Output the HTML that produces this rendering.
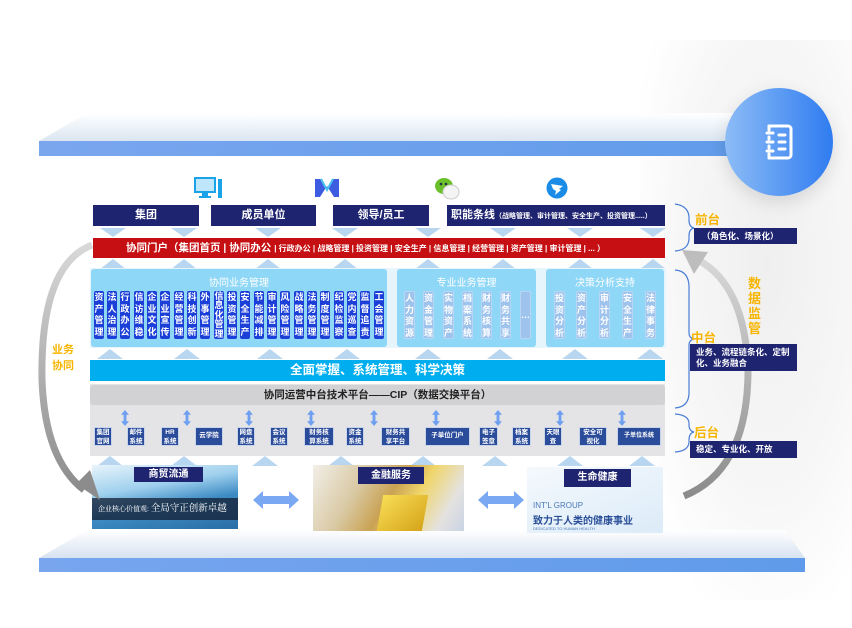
<!DOCTYPE html>
<html><head><meta charset="utf-8"><style>
*{margin:0;padding:0;box-sizing:border-box}
body{width:852px;height:628px;position:relative;overflow:hidden;background:#fff;font-family:"Liberation Sans","Noto Sans CJK SC",sans-serif}
.a{position:absolute}
.nv{background:#1f2470;color:#fff;font-weight:bold;text-align:center}
.da{position:absolute;width:26px;height:9px;background:#b9d6f0;clip-path:polygon(0 0,100% 0,50% 100%)}
.ua{position:absolute;width:26px;height:10px;background:#b9d6f0;clip-path:polygon(50% 0,100% 100%,0 100%)}
.col{position:absolute;top:291px;height:48px;width:10px;border-radius:2px;background:#1c3fd8;color:#fff;font-size:9px;font-weight:bold;line-height:11.5px;text-align:center;padding-top:1px}
.col2{background:#9ec3ec;color:#fff;width:11px;border:1px solid #b8d6f4}
.sb{position:absolute;top:427px;height:19px;background:#2b4c9a;color:#fff;font-size:6.5px;font-weight:bold;line-height:8.5px;text-align:center;padding-top:1px;white-space:nowrap;overflow:hidden;border:1px solid #c8d4ea}
.sb.one{line-height:16px;padding-top:0}
.dd{position:absolute;top:410px;width:8px;height:16px;background:#6e9ff0;clip-path:polygon(50% 0,100% 30%,68% 30%,68% 70%,100% 70%,50% 100%,0 70%,32% 70%,32% 30%,0 30%)}
.or{color:#f7b500;font-weight:bold}
</style></head><body>
<div class="a" style="left:640px;top:40px;width:212px;height:560px;background:radial-gradient(ellipse at 60% 40%,#efefef 0%,#f7f7f7 50%,#fff 80%)"></div>
<div class="a" style="left:39px;top:113px;width:766px;height:28px;background:linear-gradient(#fff,#dbe6f2);clip-path:polygon(48px 0,100% 0,100% 100%,0 100%)"></div>
<div class="a" style="left:39px;top:141px;width:766px;height:15px;background:linear-gradient(90deg,#7aa6ee,#5f9bea)"></div>
<div class="a" style="left:39px;top:530px;width:766px;height:28px;background:linear-gradient(#fff,#d7e3f1);clip-path:polygon(48px 0,calc(100% - 20px) 0,100% 100%,0 100%)"></div>
<div class="a" style="left:39px;top:558px;width:766px;height:14px;background:linear-gradient(90deg,#78a5ee,#5f9bea)"></div>
<div class="a" style="left:725px;top:88px;width:108px;height:108px;border-radius:50%;background:linear-gradient(90deg,#8cbcf6,#2f7cf0);box-shadow:0 6px 18px rgba(0,0,0,.12)"></div>
<svg class="a" style="left:755px;top:118px" width="48" height="48" viewBox="0 0 48 48"><g fill="none" stroke="#fff" stroke-width="3" stroke-linecap="round"><path d="M14 8 H33 a3 3 0 0 1 3 3 V37 a3 3 0 0 1-3 3 H14"/><path d="M12 15 H18 M12 24 H18 M12 33 H18 M24 17 H30 M24 24 H30 M24 31 H30"/><path d="M14 8 V12 M14 36 V40 M14 19 V21 M14 28 V30"/></g></svg>
<svg class="a" style="left:194px;top:177px" width="30" height="22"><rect x="1" y="1" width="20" height="14" fill="#bfe6fa" stroke="#1aa3e8" stroke-width="2"/><rect x="8" y="16" width="6" height="3" fill="#1aa3e8"/><rect x="5" y="19" width="12" height="2" fill="#1aa3e8"/><rect x="24" y="2" width="4" height="19" fill="#1aa3e8"/></svg>
<svg class="a" style="left:314px;top:178px" width="26" height="20"><path d="M1 1 L7 1 L13 12 L19 1 L25 1 L25 19 L20 19 L13 8 L6 19 L1 19Z" fill="#3d5ce0"/><path d="M7 1 L13 12 L19 1" fill="none" stroke="#48c0f0" stroke-width="2"/></svg>
<svg class="a" style="left:434px;top:176px" width="26" height="24"><ellipse cx="10" cy="10" rx="9" ry="8" fill="#6abf2a"/><ellipse cx="17" cy="16" rx="8" ry="7" fill="#f4f4f4" stroke="#ccc"/><circle cx="7" cy="8" r="1.3" fill="#234"/><circle cx="12" cy="8" r="1.3" fill="#234"/></svg>
<svg class="a" style="left:546px;top:177px" width="22" height="22"><circle cx="11" cy="11" r="10.5" fill="#1a8ce8"/><path d="M5 7 L17 9 L13 12 L15 13 L9 18 L10 14 L7 12Z" fill="#fff"/></svg>
<div class="a nv" style="left:93px;top:205px;width:106px;height:21px;font-size:11px;line-height:21px">集团</div>
<div class="a nv" style="left:211px;top:205px;width:105px;height:21px;font-size:11px;line-height:21px">成员单位</div>
<div class="a nv" style="left:333px;top:205px;width:96px;height:21px;font-size:11px;line-height:21px">领导/员工</div>
<div class="a nv" style="left:447px;top:205px;width:218px;height:21px;font-size:11px;line-height:21px;text-align:left;padding-left:4px;white-space:nowrap">职能条线<span style="font-size:7px">（战略管理、审计管理、安全生产、投资管理.....）</span></div>
<div class="da" style="left:100px;top:228px"></div><div class="da" style="left:171px;top:228px"></div><div class="da" style="left:255px;top:228px"></div><div class="da" style="left:332px;top:228px"></div><div class="da" style="left:415px;top:228px"></div><div class="da" style="left:490px;top:228px"></div><div class="da" style="left:567px;top:228px"></div><div class="da" style="left:640px;top:228px"></div>
<div class="a" style="left:93px;top:238px;width:572px;height:20px;background:#c50f12;color:#fff;font-weight:bold;font-size:10.5px;line-height:20px;padding-left:33px;white-space:nowrap">协同门户（集团首页 | 协同办公 <span style="font-size:8px">| 行政办公 | 战略管理 | 投资管理 | 安全生产 | 信息管理 | 经营管理 | 资产管理 | 审计管理 | ... ）</span></div>
<div class="ua" style="left:100px;top:259px"></div><div class="ua" style="left:171px;top:259px"></div><div class="ua" style="left:255px;top:259px"></div><div class="ua" style="left:332px;top:259px"></div><div class="ua" style="left:415px;top:259px"></div><div class="ua" style="left:490px;top:259px"></div><div class="ua" style="left:567px;top:259px"></div><div class="ua" style="left:640px;top:259px"></div>
<div class="a" style="left:90px;top:268px;width:576px;height:80px;background:#e6f4fb"></div>
<div class="a" style="left:91px;top:269px;width:296px;height:78px;background:#8fd7f6;border-radius:3px;color:#fff;font-size:10px;text-align:center;padding-top:5px">协同业务管理</div>
<div class="a" style="left:397px;top:269px;width:139px;height:78px;background:#8fd7f6;border-radius:3px;color:#fff;font-size:10px;text-align:center;padding-top:5px">专业业务管理</div>
<div class="a" style="left:546px;top:269px;width:118px;height:78px;background:#8fd7f6;border-radius:3px;color:#fff;font-size:10px;text-align:center;padding-top:5px">决策分析支持</div>
<div class="col" style="left:94px">资<br>产<br>管<br>理</div>
<div class="col" style="left:107px">法<br>人<br>治<br>理</div>
<div class="col" style="left:120px">行<br>政<br>办<br>公</div>
<div class="col" style="left:134px">信<br>访<br>维<br>稳</div>
<div class="col" style="left:147px">企<br>业<br>文<br>化</div>
<div class="col" style="left:160px">企<br>业<br>宣<br>传</div>
<div class="col" style="left:174px">经<br>营<br>管<br>理</div>
<div class="col" style="left:187px">科<br>技<br>创<br>新</div>
<div class="col" style="left:200px">外<br>事<br>管<br>理</div>
<div class="col" style="left:214px;line-height:9.4px">信<br>息<br>化<br>管<br>理</div>
<div class="col" style="left:227px">投<br>资<br>管<br>理</div>
<div class="col" style="left:240px">安<br>全<br>生<br>产</div>
<div class="col" style="left:254px">节<br>能<br>减<br>排</div>
<div class="col" style="left:267px">审<br>计<br>管<br>理</div>
<div class="col" style="left:280px">风<br>险<br>管<br>理</div>
<div class="col" style="left:294px">战<br>略<br>管<br>理</div>
<div class="col" style="left:307px">法<br>务<br>管<br>理</div>
<div class="col" style="left:320px">制<br>度<br>管<br>理</div>
<div class="col" style="left:334px">纪<br>检<br>监<br>察</div>
<div class="col" style="left:347px">党<br>内<br>巡<br>查</div>
<div class="col" style="left:360px">监<br>督<br>追<br>责</div>
<div class="col" style="left:374px">工<br>会<br>管<br>理</div>
<div class="col col2" style="left:404px">人<br>力<br>资<br>源</div>
<div class="col col2" style="left:423px">资<br>金<br>管<br>理</div>
<div class="col col2" style="left:443px">实<br>物<br>资<br>产</div>
<div class="col col2" style="left:462px">档<br>案<br>系<br>统</div>
<div class="col col2" style="left:481px">财<br>务<br>核<br>算</div>
<div class="col col2" style="left:500px">财<br>务<br>共<br>享</div>
<div class="col col2" style="left:520px;padding-top:18px">…</div>
<div class="col col2" style="left:554px">投<br>资<br>分<br>析</div>
<div class="col col2" style="left:576px">资<br>产<br>分<br>析</div>
<div class="col col2" style="left:599px">审<br>计<br>分<br>析</div>
<div class="col col2" style="left:622px">安<br>全<br>生<br>产</div>
<div class="col col2" style="left:645px">法<br>律<br>事<br>务</div>
<div class="ua" style="left:97px;top:349px"></div><div class="ua" style="left:174px;top:349px"></div><div class="ua" style="left:257px;top:349px"></div><div class="ua" style="left:334px;top:349px"></div><div class="ua" style="left:415px;top:349px"></div><div class="ua" style="left:487px;top:349px"></div><div class="ua" style="left:562px;top:349px"></div><div class="ua" style="left:637px;top:349px"></div>
<div class="a" style="left:90px;top:360px;width:575px;height:21px;background:#00aeef;color:#fff;font-weight:bold;font-size:12.5px;line-height:21px;text-align:center">全面掌握、系统管理、科学决策</div>
<div class="a" style="left:90px;top:384px;width:575px;height:72px;background:#e4e4e6"></div>
<div class="a" style="left:90px;top:385px;width:575px;height:20px;background:#d2d2d4;border-radius:3px;color:#222;font-weight:bold;font-size:10.5px;line-height:20px;text-align:center">协同运营中台技术平台——CIP（数据交换平台）</div>
<div class="dd" style="left:121px"></div><div class="dd" style="left:183px"></div><div class="dd" style="left:245px"></div><div class="dd" style="left:307px"></div><div class="dd" style="left:370px"></div><div class="dd" style="left:432px"></div><div class="dd" style="left:494px"></div><div class="dd" style="left:556px"></div><div class="dd" style="left:618px"></div>
<div class="sb" style="left:94px;width:18px">集团<br>官网</div>
<div class="sb" style="left:127px;width:18px">邮件<br>系统</div>
<div class="sb" style="left:161px;width:18px">HR<br>系统</div>
<div class="sb one" style="left:195px;width:28px">云学院</div>
<div class="sb" style="left:237px;width:18px">网盘<br>系统</div>
<div class="sb" style="left:270px;width:18px">会议<br>系统</div>
<div class="sb" style="left:304px;width:30px">财务核<br>算系统</div>
<div class="sb" style="left:346px;width:18px">资金<br>系统</div>
<div class="sb" style="left:381px;width:29px">财务共<br>享平台</div>
<div class="sb one" style="left:425px;width:45px">子单位门户</div>
<div class="sb" style="left:479px;width:19px">电子<br>签章</div>
<div class="sb" style="left:512px;width:19px">档案<br>系统</div>
<div class="sb" style="left:544px;width:18px">天眼<br>查</div>
<div class="sb" style="left:579px;width:28px">安全可<br>视化</div>
<div class="sb one" style="left:617px;width:44px;font-size:6px">子单位系统</div>
<div class="ua" style="left:97px;top:456px"></div><div class="ua" style="left:171px;top:456px"></div><div class="ua" style="left:252px;top:456px"></div><div class="ua" style="left:328px;top:456px"></div><div class="ua" style="left:410px;top:456px"></div><div class="ua" style="left:482px;top:456px"></div><div class="ua" style="left:557px;top:456px"></div><div class="ua" style="left:629px;top:456px"></div>
<div class="a" style="left:92px;top:465px;width:146px;height:64px;background:linear-gradient(170deg,#e8f4fb 0%,#9fd0ee 35%,#3e8cc4 60%,#2a6ea6 100%)"></div>
<div class="a" style="left:92px;top:498px;width:146px;height:22px;background:rgba(20,30,50,.75);color:#fff;font-family:'Liberation Serif','Noto Serif CJK SC',serif;font-size:7px;line-height:22px;padding-left:6px;white-space:nowrap">企业核心价值观: <span style="font-size:9.5px">全局守正创新卓越</span></div>
<div class="a nv" style="left:134px;top:467px;width:69px;height:15px;font-size:10px;line-height:15px">商贸流通</div>
<div class="a" style="left:313px;top:465px;width:151px;height:66px;background:linear-gradient(120deg,#f2efe8 0%,#d9c9a4 30%,#c9a253 50%,#f0d56a 65%,#e4e2e0 85%,#c9d3e4 100%)"></div>
<div class="a" style="left:380px;top:495px;width:45px;height:36px;background:linear-gradient(135deg,#f7dd55,#d6a41a);transform:skewX(-10deg)"></div>
<div class="a nv" style="left:358px;top:467px;width:66px;height:17px;font-size:10px;line-height:17px">金融服务</div>
<div class="a" style="left:527px;top:467px;width:136px;height:66px;background:linear-gradient(160deg,#f4f9fd,#dcebf8)"></div>
<div class="a nv" style="left:564px;top:469px;width:67px;height:18px;font-size:10px;line-height:18px">生命健康</div>
<div class="a" style="left:533px;top:501px;font-size:8px;color:#4a78b8">INT'L GROUP</div>
<div class="a" style="left:533px;top:512px;font-size:10px;color:#2a4f98;font-weight:bold;white-space:nowrap">致力于人类的健康事业</div>
<div class="a" style="left:533px;top:526px;font-size:4px;color:#4a78b8">DEDICATED TO HUMAN HEALTH</div>
<svg class="a" style="left:253px;top:491px" width="46" height="18"><path d="M0 9 L10 0 L10 5 L36 5 L36 0 L46 9 L36 18 L36 13 L10 13 L10 18Z" fill="#7aa8f2"/></svg>
<svg class="a" style="left:478px;top:491px" width="46" height="18"><path d="M0 9 L10 0 L10 5 L36 5 L36 0 L46 9 L36 18 L36 13 L10 13 L10 18Z" fill="#7aa8f2"/></svg>
<svg class="a" style="left:0;top:0" width="852" height="628">
<defs><linearGradient id="g" x1="0" y1="0" x2="0" y2="1"><stop offset="0" stop-color="#d8d8d8"/><stop offset="1" stop-color="#8c8c8c"/></linearGradient></defs>
<path d="M92 245 Q40 265 42 380 Q45 460 84 490" fill="none" stroke="url(#g)" stroke-width="7"/>
<path d="M76 484 L100 500 L90 470Z" fill="#8c8c8c"/>
<path d="M684 496 Q748 470 748 370 Q745 285 698 260" fill="none" stroke="url(#g)" stroke-width="7"/>
<path d="M682 250 L708 252 L694 274Z" fill="#bdbdbd"/>
<g fill="none" stroke="#4a7ed6" stroke-width="1.2"><path d="M675 204 Q690 206 689 220 Q689 227 694 228 Q689 229 689 236 Q690 250 675 251"/><path d="M675 270 Q690 271 689 290 L689 333 Q689 338 694 339 Q689 340 689 345 L689 390 Q690 407 675 408"/><path d="M675 414 Q690 415 689 425 Q689 431 694 432 Q689 433 689 440 Q690 451 675 452"/></g>
</svg>
<div class="a or" style="left:50px;top:342px;font-size:11px;line-height:16px;width:26px;text-align:center">业务<br>协同</div>
<div class="a or" style="left:748px;top:276px;font-size:13px;line-height:15px;width:16px">数<br>据<br>监<br>管</div>
<div class="a or" style="left:695px;top:209px;font-size:12.5px">前台</div>
<div class="a nv" style="left:694px;top:228px;width:103px;height:16px;font-size:8.5px;line-height:16px;text-align:left;padding-left:8px">（角色化、场景化）</div>
<div class="a or" style="left:691px;top:327px;font-size:12.5px">中台</div>
<div class="a nv" style="left:690px;top:344px;width:107px;height:27px;font-size:8.5px;line-height:11px;text-align:left;padding:3px 0 0 6px">业务、流程链条化、定制化、业务融合</div>
<div class="a or" style="left:694px;top:422px;font-size:12.5px">后台</div>
<div class="a nv" style="left:690px;top:441px;width:107px;height:17px;font-size:8.5px;line-height:17px;text-align:left;padding-left:6px">稳定、专业化、开放</div>
</body></html>
